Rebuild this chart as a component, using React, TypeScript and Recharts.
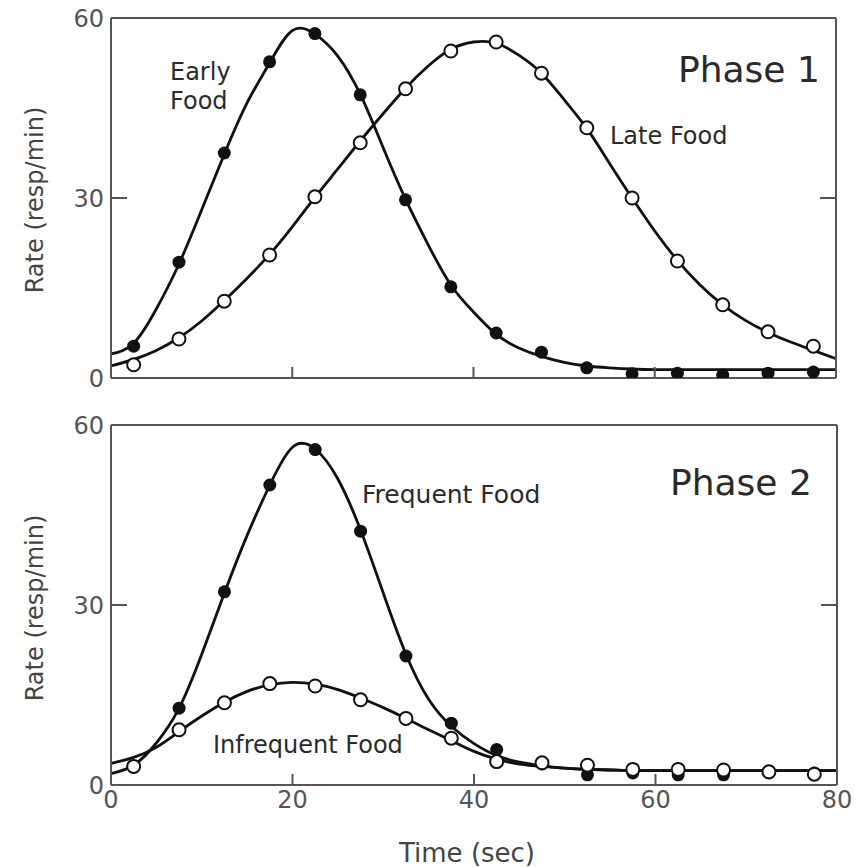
import { ComposedChart, Line, Scatter, XAxis, YAxis } from 'recharts'

// sample times for the fitted curves (sec)
const CURVE_T = [
  0, 2.5, 5, 7.5, 10, 12.5, 15, 17.5, 20, 22.5, 25, 27.5, 30, 32.5, 35, 37.5,
  40, 42.5, 45, 47.5, 50, 52.5, 55, 57.5, 60, 62.5, 65, 67.5, 70, 72.5, 75, 77.5, 80,
]
// observed bins (sec)
const POINT_T = [2.5, 7.5, 12.5, 17.5, 22.5, 27.5, 32.5, 37.5, 42.5, 47.5, 52.5, 57.5, 62.5, 67.5, 72.5, 77.5]

// Phase 1
const earlyCurve = [
  4.0, 5.8, 11.5, 19.0, 28.0, 37.3, 45.8, 52.5, 57.9, 57.3, 53.7, 47.3, 38.5, 29.8, 22.2, 15.5,
  11.0, 7.3, 5.0, 3.6, 2.6, 2.0, 1.7, 1.5, 1.4, 1.4, 1.4, 1.4, 1.4, 1.4, 1.4, 1.4, 1.4,
]
const lateCurve = [
  2.0, 3.1, 4.6, 6.7, 9.5, 12.9, 16.6, 20.6, 25.2, 30.1, 34.8, 39.5, 44.0, 48.3, 52.0, 54.8,
  56.0, 55.8, 53.8, 50.8, 46.4, 41.6, 35.8, 30.0, 24.5, 19.6, 15.5, 12.2, 9.6, 7.6, 6.0, 4.6, 3.2,
]
const earlyPoints = [5.3, 19.3, 37.5, 52.7, 57.4, 47.2, 29.7, 15.2, 7.5, 4.3, 1.7, 0.7, 0.8, 0.5, 0.8, 1.0]
const latePoints = [2.2, 6.5, 12.8, 20.5, 30.2, 39.2, 48.2, 54.5, 56.0, 50.8, 41.7, 30.0, 19.5, 12.2, 7.7, 5.3]

// Phase 2
const frequentCurve = [
  1.9, 3.3, 7.0, 12.8, 21.8, 32.0, 41.6, 50.0, 56.3, 56.0, 51.0, 42.5, 32.0, 21.8, 14.3, 9.8,
  6.9, 4.9, 3.8, 3.2, 2.8, 2.6, 2.5, 2.4, 2.4, 2.4, 2.4, 2.4, 2.4, 2.4, 2.4, 2.4, 2.4,
]
const infrequentCurve = [
  3.6, 4.6, 6.3, 8.9, 11.5, 13.8, 15.6, 16.7, 17.1, 16.8, 15.9, 14.5, 12.9, 11.1, 9.2, 7.4,
  5.6, 4.3, 3.5, 3.1, 2.8, 2.6, 2.5, 2.4, 2.4, 2.4, 2.4, 2.4, 2.4, 2.4, 2.4, 2.4, 2.4,
]
const frequentPoints = [3.0, 12.8, 32.2, 50.0, 55.9, 42.3, 21.5, 10.3, 5.9, 3.5, 1.7, 2.0, 1.7, 1.7, 2.0, 2.0]
const infrequentPoints = [3.1, 9.2, 13.7, 16.9, 16.5, 14.2, 11.1, 7.8, 3.9, 3.7, 3.3, 2.6, 2.6, 2.5, 2.2, 1.8]

const X_TICKS = [0, 20, 40, 60, 80]
const INNER_X_TICKS = [20, 40, 60]
const Y_TICKS = [0, 30, 60]

const toXY = (xs: number[], ys: number[]) => xs.map((x, i) => ({ x, y: ys[i] }))

const FONT = 'DejaVu Sans'
const INK = '#111'
const FRAME = '#555'

const FilledDot = (p: any) => <circle cx={p.cx} cy={p.cy} r={6.5} fill={INK} />
const OpenDot = (p: any) => (
  <circle cx={p.cx} cy={p.cy} r={6.5} fill="#fff" stroke={INK} strokeWidth={2} />
)
// tick marks only, no text
const NoText = () => <g />

interface PanelProps {
  top: number
  height: number
  margin: { top: number; right: number; bottom: number; left: number }
  filledCurve: number[]
  openCurve: number[]
  filled: number[]
  open: number[]
  showXLabels?: boolean
}

function Panel({ top, height, margin, filledCurve, openCurve, filled, open, showXLabels }: PanelProps) {
  const frame = { stroke: FRAME, strokeWidth: 2 }
  const tickStyle = { fill: '#555', fontSize: 24, fontFamily: FONT }
  return (
    <div style={{ position: 'absolute', left: 0, top }}>
      <ComposedChart width={859} height={height} margin={margin}>
        {/* negative tickSize turns the tick marks inward, labels stay below */}
        <XAxis
          xAxisId="main"
          dataKey="x"
          type="number"
          domain={[0, 80]}
          allowDataOverflow
          ticks={showXLabels ? X_TICKS : INNER_X_TICKS}
          interval={0}
          orientation="bottom"
          height={showXLabels ? 60 : 1}
          tick={showXLabels ? tickStyle : NoText}
          tickSize={-11}
          tickMargin={17}
          tickLine={frame}
          axisLine={frame}
          stroke={FRAME}
        />
        <XAxis
          xAxisId="top"
          type="number"
          domain={[0, 80]}
          allowDataOverflow
          ticks={INNER_X_TICKS}
          interval={0}
          orientation="top"
          mirror
          tick={NoText}
          tickSize={11}
          axisLine={frame}
          tickLine={frame}
          stroke={FRAME}
        />
        <YAxis
          yAxisId="main"
          dataKey="y"
          type="number"
          domain={[0, 60]}
          allowDataOverflow
          ticks={[30]}
          interval={0}
          orientation="left"
          mirror
          tick={NoText}
          tickSize={16}
          axisLine={frame}
          tickLine={frame}
          stroke={FRAME}
        />
        <YAxis
          yAxisId="right"
          type="number"
          domain={[0, 60]}
          allowDataOverflow
          ticks={[30]}
          interval={0}
          orientation="right"
          mirror
          tick={NoText}
          tickSize={16}
          axisLine={frame}
          tickLine={frame}
          stroke={FRAME}
        />
        <YAxis
          yAxisId="lab"
          type="number"
          domain={[0, 60]}
          allowDataOverflow
          ticks={Y_TICKS}
          interval={0}
          orientation="left"
          width={60}
          axisLine={false}
          tickLine={false}
          tickSize={0}
          tickMargin={7}
          tick={tickStyle}
        />
        <Line
          xAxisId="main"
          yAxisId="main"
          data={toXY(CURVE_T, filledCurve)}
          dataKey="y"
          type="natural"
          stroke={INK}
          strokeWidth={2.8}
          dot={false}
          isAnimationActive={false}
        />
        <Line
          xAxisId="main"
          yAxisId="main"
          data={toXY(CURVE_T, openCurve)}
          dataKey="y"
          type="natural"
          stroke={INK}
          strokeWidth={2.8}
          dot={false}
          isAnimationActive={false}
        />
        <Scatter
          xAxisId="main"
          yAxisId="main"
          data={toXY(POINT_T, filled)}
          dataKey="y"
          shape={FilledDot}
          isAnimationActive={false}
        />
        <Scatter
          xAxisId="main"
          yAxisId="main"
          data={toXY(POINT_T, open)}
          dataKey="y"
          shape={OpenDot}
          isAnimationActive={false}
        />
      </ComposedChart>
    </div>
  )
}

export default function App() {
  const label = { fontFamily: FONT, fill: '#2a2a2a' }
  return (
    <div style={{ position: 'absolute', left: 0, top: 0, width: 859, height: 867, background: '#fff' }}>
      <Panel
        top={0}
        height={400}
        margin={{ top: 18, right: 23, bottom: 21, left: 51 }}
        filledCurve={earlyCurve}
        openCurve={lateCurve}
        filled={earlyPoints}
        open={latePoints}
      />
      <Panel
        top={400}
        height={467}
        margin={{ top: 25, right: 22, bottom: 22, left: 51 }}
        filledCurve={frequentCurve}
        openCurve={infrequentCurve}
        filled={frequentPoints}
        open={infrequentPoints}
        showXLabels
      />
      <svg
        width={859}
        height={867}
        style={{ position: 'absolute', left: 0, top: 0, pointerEvents: 'none' }}
      >
        <text {...label} x={170} y={80} fontSize={24}>Early</text>
        <text {...label} x={170} y={109} fontSize={24}>Food</text>
        <text {...label} x={610} y={144} fontSize={24}>Late Food</text>
        <text {...label} x={678} y={82} fontSize={36}>Phase 1</text>
        <text {...label} x={362} y={503} fontSize={25}>Frequent Food</text>
        <text {...label} x={213} y={753} fontSize={24}>Infrequent Food</text>
        <text {...label} x={670} y={495} fontSize={36}>Phase 2</text>
        <text {...label} fill="#444" x={43} y={200} fontSize={24} textAnchor="middle" transform="rotate(-90 43 200)">
          Rate (resp/min)
        </text>
        <text {...label} fill="#444" x={43} y={608} fontSize={24} textAnchor="middle" transform="rotate(-90 43 608)">
          Rate (resp/min)
        </text>
        <text {...label} fill="#444" x={467} y={862} fontSize={26} textAnchor="middle">
          Time (sec)
        </text>
      </svg>
    </div>
  )
}
